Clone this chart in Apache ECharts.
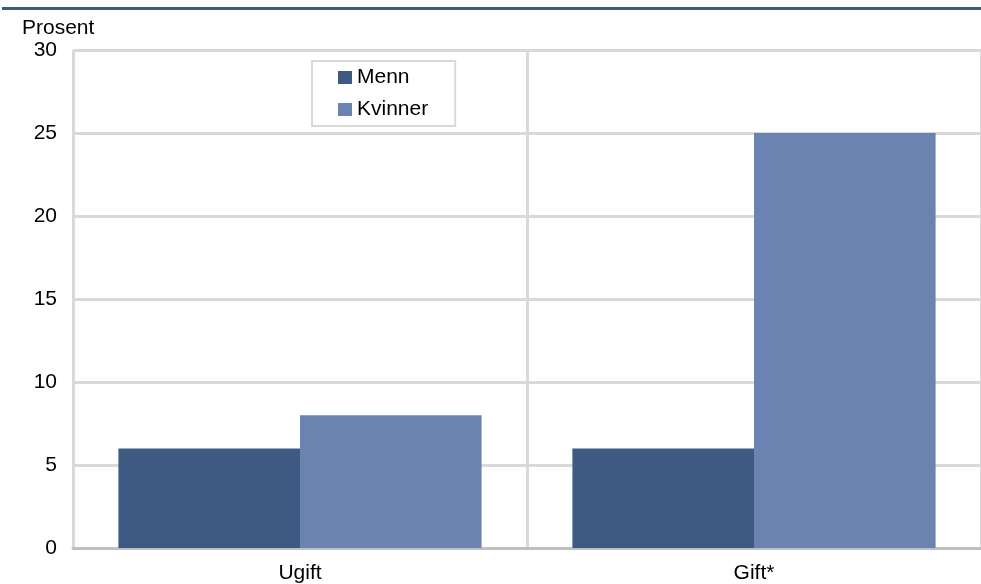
<!DOCTYPE html>
<html><head><meta charset="utf-8">
<script src="https://cdn.jsdelivr.net/npm/echarts@6/dist/echarts.min.js"></script>
<style>html,body{margin:0;padding:0;background:#fff}#c{width:981px;height:584px}</style>
</head><body><div id="c"></div>
<script>
const categories = ['Ugift', 'Gift*'];
const menn = [6, 6];
const kvinner = [8, 25];
const yTicks = [0, 5, 10, 15, 20, 25, 30];

const chart = echarts.init(document.getElementById('c'), null, {renderer: 'canvas'});
const font = 'Liberation Sans, Arial, sans-serif';
chart.setOption({
  animation: false,
  textStyle: {fontFamily: font},
  graphic: [
    {type: 'rect', shape: {x: 2, y: 7, width: 979, height: 3}, style: {fill: '#3d5a80'}},
    {type: 'text', left: 22, top: 18, style: {text: 'Prosent', font: '21px ' + font, fill: '#000'}}
  ],
  grid: {left: 73, right: 0, top: 50, bottom: 36, containLabel: false},
  legend: {
    left: 312, top: 61, orient: 'vertical',
    backgroundColor: '#fff', borderColor: '#d9d9d9', borderWidth: 2,
    padding: [6, 27, 6, 26], itemGap: 11,
    icon: 'rect', itemWidth: 14, itemHeight: 13,
    textStyle: {fontSize: 21, color: '#000', fontFamily: font, lineHeight: 21},
    data: ['Menn', 'Kvinner']
  },
  xAxis: {
    type: 'category', data: categories,
    axisLine: {show: true, lineStyle: {color: '#bfbfbf', width: 3}},
    axisTick: {show: false},
    axisLabel: {fontSize: 21, color: '#000', margin: 15, fontFamily: font},
    splitLine: {show: true, lineStyle: {color: '#d9d9d9', width: 3}}
  },
  yAxis: {
    type: 'value', min: yTicks[0], max: yTicks[yTicks.length - 1], interval: 5,
    axisLine: {show: false}, axisTick: {show: false},
    axisLabel: {fontSize: 21, color: '#000', margin: 16, fontFamily: font},
    splitLine: {show: true, lineStyle: {color: '#d9d9d9', width: 3}}
  },
  series: [
    {name: 'Menn', type: 'bar', data: menn, barGap: '0%', barCategoryGap: '20%', itemStyle: {color: '#3e5a82'}},
    {name: 'Kvinner', type: 'bar', data: kvinner, barGap: '0%', barCategoryGap: '20%', itemStyle: {color: '#6a83b0'}}
  ]
});
</script></body></html>
